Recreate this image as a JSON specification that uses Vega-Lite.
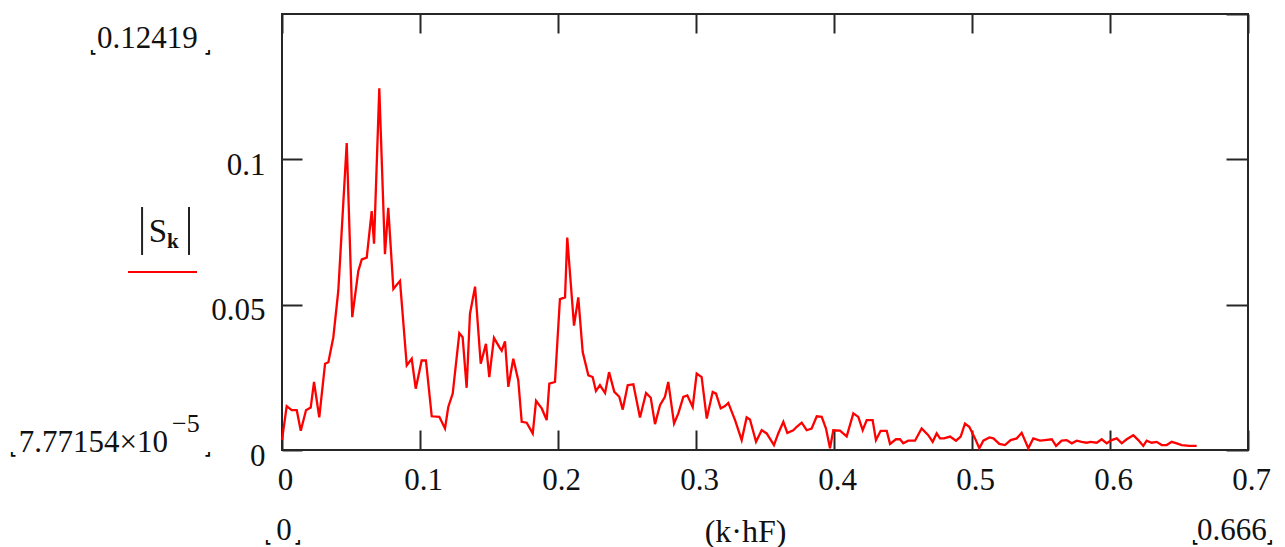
{
  "$schema": "https://vega.github.io/schema/vega-lite/v6.json",
  "width": 966,
  "height": 436,
  "autosize": {"type": "none"},
  "padding": {"left": 282, "top": 14, "right": 37, "bottom": 97},
  "background": "white",
  "config": {
    "view": {"stroke": "#262626", "strokeWidth": 2},
    "text": {"font": "Liberation Serif", "color": "#111", "fontSize": 31}
  },
  "data": {"values": [
    {"f":0,"s":0.0034},{"f":0.0034,"s":0.0151},{"f":0.0070,"s":0.0137},{"f":0.0107,"s":0.0137},{"f":0.0136,"s":0.0066},{"f":0.0174,"s":0.0137},{"f":0.0208,"s":0.0146},{"f":0.0232,"s":0.0234},{"f":0.0270,"s":0.0112},{"f":0.0312,"s":0.0297},{"f":0.0336,"s":0.0302},{"f":0.0372,"s":0.0388},{"f":0.0408,"s":0.0548},{"f":0.0469,"s":0.1056},{"f":0.0509,"s":0.0457},{"f":0.0553,"s":0.0616},{"f":0.0578,"s":0.0656},{"f":0.0614,"s":0.0662},{"f":0.0650,"s":0.0822},{"f":0.0667,"s":0.0710},{"f":0.0705,"s":0.1244},{"f":0.0746,"s":0.0674},{"f":0.0770,"s":0.0833},{"f":0.0807,"s":0.0554},{"f":0.0855,"s":0.0582},{"f":0.0904,"s":0.0291},{"f":0.0940,"s":0.0314},{"f":0.0969,"s":0.0211},{"f":0.1012,"s":0.0308},{"f":0.1043,"s":0.0308},{"f":0.1085,"s":0.0116},{"f":0.1140,"s":0.0114},{"f":0.1181,"s":0.0074},{"f":0.1205,"s":0.0148},{"f":0.1237,"s":0.0194},{"f":0.1285,"s":0.0402},{"f":0.1309,"s":0.0388},{"f":0.1338,"s":0.0214},{"f":0.1362,"s":0.0468},{"f":0.1399,"s":0.0562},{"f":0.1440,"s":0.0297},{"f":0.1478,"s":0.0365},{"f":0.1502,"s":0.0251},{"f":0.1536,"s":0.0386},{"f":0.1575,"s":0.0354},{"f":0.1592,"s":0.0342},{"f":0.1616,"s":0.0374},{"f":0.1640,"s":0.0217},{"f":0.1676,"s":0.0314},{"f":0.1712,"s":0.0240},{"f":0.1737,"s":0.0097},{"f":0.1773,"s":0.0094},{"f":0.1817,"s":0.0057},{"f":0.1841,"s":0.0169},{"f":0.1882,"s":0.0143},{"f":0.1918,"s":0.0103},{"f":0.1937,"s":0.0228},{"f":0.1978,"s":0.0234},{"f":0.2014,"s":0.0519},{"f":0.2051,"s":0.0525},{"f":0.2067,"s":0.0731},{"f":0.2116,"s":0.0428},{"f":0.2147,"s":0.0525},{"f":0.2179,"s":0.0337},{"f":0.2220,"s":0.0257},{"f":0.2251,"s":0.0251},{"f":0.2275,"s":0.0203},{"f":0.2304,"s":0.0223},{"f":0.2341,"s":0.0196},{"f":0.2370,"s":0.0268},{"f":0.2408,"s":0.0200},{"f":0.2444,"s":0.0183},{"f":0.2469,"s":0.0139},{"f":0.2505,"s":0.0223},{"f":0.2546,"s":0.0226},{"f":0.2594,"s":0.0112},{"f":0.2638,"s":0.0196},{"f":0.2672,"s":0.0180},{"f":0.2703,"s":0.0089},{"f":0.2739,"s":0.0154},{"f":0.2775,"s":0.0183},{"f":0.2799,"s":0.0234},{"f":0.2841,"s":0.0091},{"f":0.2872,"s":0.0126},{"f":0.2908,"s":0.0183},{"f":0.2937,"s":0.0188},{"f":0.2976,"s":0.0148},{"f":0.3005,"s":0.0263},{"f":0.3041,"s":0.0251},{"f":0.3078,"s":0.0108},{"f":0.3121,"s":0.0200},{"f":0.3145,"s":0.0194},{"f":0.3179,"s":0.0143},{"f":0.3210,"s":0.0151},{"f":0.3234,"s":0.0162},{"f":0.3283,"s":0.0103},{"f":0.3331,"s":0.0034},{"f":0.3367,"s":0.0112},{"f":0.3391,"s":0.0105},{"f":0.3435,"s":0.0028},{"f":0.3476,"s":0.0068},{"f":0.3512,"s":0.0057},{"f":0.3565,"s":0.0017},{"f":0.3596,"s":0.0057},{"f":0.3633,"s":0.0097},{"f":0.3662,"s":0.0059},{"f":0.3705,"s":0.0068},{"f":0.3730,"s":0.0080},{"f":0.3766,"s":0.0094},{"f":0.3802,"s":0.0068},{"f":0.3838,"s":0.0074},{"f":0.3875,"s":0.0116},{"f":0.3911,"s":0.0114},{"f":0.3942,"s":0.0074},{"f":0.3971,"s":0.0006},{"f":0.3995,"s":0.0068},{"f":0.4043,"s":0.0067},{"f":0.4092,"s":0.0047},{"f":0.4140,"s":0.0126},{"f":0.4176,"s":0.0114},{"f":0.4208,"s":0.0068},{"f":0.4237,"s":0.0103},{"f":0.4280,"s":0.0103},{"f":0.4304,"s":0.0034},{"f":0.4338,"s":0.0066},{"f":0.4382,"s":0.0066},{"f":0.4406,"s":0.0021},{"f":0.4449,"s":0.0037},{"f":0.4478,"s":0.0037},{"f":0.4502,"s":0.0023},{"f":0.4538,"s":0.0032},{"f":0.4587,"s":0.0032},{"f":0.4635,"s":0.0074},{"f":0.4683,"s":0.0051},{"f":0.4715,"s":0.0028},{"f":0.4744,"s":0.0057},{"f":0.4768,"s":0.0040},{"f":0.4797,"s":0.0040},{"f":0.4841,"s":0.0046},{"f":0.4884,"s":0.0032},{"f":0.4918,"s":0.0046},{"f":0.4949,"s":0.0091},{"f":0.4980,"s":0.0080},{"f":0.5022,"s":0.0040},{"f":0.5053,"s":0.0006},{"f":0.5082,"s":0.0032},{"f":0.5126,"s":0.0043},{"f":0.5155,"s":0.0040},{"f":0.5198,"s":0.0021},{"f":0.5239,"s":0.0017},{"f":0.5280,"s":0.0034},{"f":0.5324,"s":0.0040},{"f":0.5360,"s":0.0059},{"f":0.5408,"s":0.0006},{"f":0.5444,"s":0.0040},{"f":0.5493,"s":0.0032},{"f":0.5529,"s":0.0034},{"f":0.5578,"s":0.0037},{"f":0.5609,"s":0.0014},{"f":0.5650,"s":0.0032},{"f":0.5686,"s":0.0034},{"f":0.5723,"s":0.0023},{"f":0.5759,"s":0.0032},{"f":0.5795,"s":0.0028},{"f":0.5831,"s":0.0025},{"f":0.5860,"s":0.0028},{"f":0.5904,"s":0.0025},{"f":0.5940,"s":0.0037},{"f":0.5976,"s":0.0023},{"f":0.6012,"s":0.0034},{"f":0.6049,"s":0.0040},{"f":0.6085,"s":0.0023},{"f":0.6121,"s":0.0037},{"f":0.6169,"s":0.0051},{"f":0.6205,"s":0.0034},{"f":0.6241,"s":0.0014},{"f":0.6266,"s":0.0032},{"f":0.6302,"s":0.0025},{"f":0.6338,"s":0.0028},{"f":0.6375,"s":0.0017},{"f":0.6411,"s":0.0017},{"f":0.6447,"s":0.0028},{"f":0.6483,"s":0.0023},{"f":0.6520,"s":0.0017},{"f":0.6575,"s":0.0014},{"f":0.6628,"s":0.0014}
  ]},
  "resolve": {"axis": {"x": "independent", "y": "independent"}},
  "layer": [
    {
      "mark": {"type": "line", "color": "#ff0000", "strokeWidth": 2.3},
      "encoding": {
        "x": {"field": "f", "type": "quantitative",
          "scale": {"domain": [0, 0.7], "nice": false, "zero": false},
          "axis": {"orient": "bottom", "values": [0, 0.1, 0.2, 0.3, 0.4, 0.5, 0.6, 0.7], "format": "~g",
            "domain": false, "grid": false, "tickSize": -20, "tickWidth": 2, "tickColor": "#262626",
            "labelPadding": 35, "labelOffset": 3, "labelFont": "Liberation Serif", "labelFontSize": 31, "labelColor": "#111",
            "labelFlush": false, "labelOverlap": false, "labelBound": false,
            "title": "(k·hF)", "titleFont": "Liberation Serif", "titleFontSize": 32, "titleFontWeight": "normal", "titleColor": "#111",
            "titleX": 463, "titleY": 91, "titleBaseline": "alphabetic", "titleAlign": "center", "titleAnchor": null}},
        "y": {"field": "s", "type": "quantitative",
          "scale": {"domain": [0, 0.15], "nice": false, "zero": false},
          "axis": {"orient": "left", "values": [0, 0.05, 0.1], "format": "~g",
            "domain": false, "grid": false, "tickSize": -20, "tickWidth": 2, "tickColor": "#262626",
            "labelPadding": 37, "labelOffset": 6, "labelFont": "Liberation Serif", "labelFontSize": 31, "labelColor": "#111",
            "labelFlush": false, "labelOverlap": false, "labelBound": false, "labelBaseline": "middle", "title": null}}
      }
    },
    {
      "mark": {"type": "line", "strokeOpacity": 0},
      "encoding": {
        "x": {"field": "f", "type": "quantitative",
          "axis": {"orient": "top", "values": [0, 0.1, 0.2, 0.3, 0.4, 0.5, 0.6, 0.7], "labels": false,
            "domain": false, "grid": false, "tickSize": -19, "tickWidth": 2, "tickColor": "#262626", "title": null}},
        "y": {"field": "s", "type": "quantitative",
          "axis": {"orient": "right", "values": [0, 0.05, 0.1, 0.15], "labels": false,
            "domain": false, "grid": false, "tickSize": -22, "tickWidth": 2, "tickColor": "#262626", "title": null}}
      }
    },
    {
      "data": {"values": [{}]},
      "mark": {"type": "text", "text": "0.12419", "align": "left", "baseline": "alphabetic", "fontSize": 31},
      "encoding": {"x": {"datum": -0.1341, "type": "quantitative", "axis": null}, "y": {"datum": 0.1383, "type": "quantitative", "axis": null}}
    },
    {
      "data": {"values": [{}]},
      "mark": {"type": "text", "text": "7.77154×10", "align": "right", "baseline": "alphabetic", "fontSize": 31},
      "encoding": {"x": {"datum": -0.0826, "type": "quantitative", "axis": null}, "y": {"datum": -0.0007, "type": "quantitative", "axis": null}}
    },
    {
      "data": {"values": [{}]},
      "mark": {"type": "text", "text": "−5", "align": "left", "baseline": "alphabetic", "fontSize": 26},
      "encoding": {"x": {"datum": -0.0797, "type": "quantitative", "axis": null}, "y": {"datum": 0.0062, "type": "quantitative", "axis": null}}
    },
    {
      "data": {"values": [{}]},
      "mark": {"type": "text", "text": "0", "align": "center", "baseline": "alphabetic", "fontSize": 31},
      "encoding": {"x": {"datum": 0.0014, "type": "quantitative", "axis": null}, "y": {"datum": -0.031, "type": "quantitative", "axis": null}}
    },
    {
      "data": {"values": [{}]},
      "mark": {"type": "text", "text": "0.666", "align": "center", "baseline": "alphabetic", "fontSize": 31},
      "encoding": {"x": {"datum": 0.6884, "type": "quantitative", "axis": null}, "y": {"datum": -0.031, "type": "quantitative", "axis": null}}
    },
    {
      "data": {"values": [{}]},
      "mark": {"type": "text", "text": "⌞", "font": "DejaVu Sans", "color": "#000", "fontWeight": "bold", "align": "center", "baseline": "alphabetic", "fontSize": 14},
      "encoding": {"x": {"datum": -0.137, "type": "quantitative", "axis": null}, "y": {"datum": 0.1366, "type": "quantitative", "axis": null}}
    },
    {
      "data": {"values": [{}]},
      "mark": {"type": "text", "text": "⌟", "font": "DejaVu Sans", "color": "#000", "fontWeight": "bold", "align": "center", "baseline": "alphabetic", "fontSize": 14},
      "encoding": {"x": {"datum": -0.0536, "type": "quantitative", "axis": null}, "y": {"datum": 0.1366, "type": "quantitative", "axis": null}}
    },
    {
      "data": {"values": [{}]},
      "mark": {"type": "text", "text": "⌞", "font": "DejaVu Sans", "color": "#000", "fontWeight": "bold", "align": "center", "baseline": "alphabetic", "fontSize": 14},
      "encoding": {"x": {"datum": -0.1949, "type": "quantitative", "axis": null}, "y": {"datum": -0.0017, "type": "quantitative", "axis": null}}
    },
    {
      "data": {"values": [{}]},
      "mark": {"type": "text", "text": "⌟", "font": "DejaVu Sans", "color": "#000", "fontWeight": "bold", "align": "center", "baseline": "alphabetic", "fontSize": 14},
      "encoding": {"x": {"datum": -0.0536, "type": "quantitative", "axis": null}, "y": {"datum": -0.0017, "type": "quantitative", "axis": null}}
    },
    {
      "data": {"values": [{}]},
      "mark": {"type": "text", "text": "⌞", "font": "DejaVu Sans", "color": "#000", "fontWeight": "bold", "align": "center", "baseline": "alphabetic", "fontSize": 14},
      "encoding": {"x": {"datum": -0.0101, "type": "quantitative", "axis": null}, "y": {"datum": -0.032, "type": "quantitative", "axis": null}}
    },
    {
      "data": {"values": [{}]},
      "mark": {"type": "text", "text": "⌟", "font": "DejaVu Sans", "color": "#000", "fontWeight": "bold", "align": "center", "baseline": "alphabetic", "fontSize": 14},
      "encoding": {"x": {"datum": 0.0116, "type": "quantitative", "axis": null}, "y": {"datum": -0.032, "type": "quantitative", "axis": null}}
    },
    {
      "data": {"values": [{}]},
      "mark": {"type": "text", "text": "⌞", "font": "DejaVu Sans", "color": "#000", "fontWeight": "bold", "align": "center", "baseline": "alphabetic", "fontSize": 14},
      "encoding": {"x": {"datum": 0.6616, "type": "quantitative", "axis": null}, "y": {"datum": -0.032, "type": "quantitative", "axis": null}}
    },
    {
      "data": {"values": [{}]},
      "mark": {"type": "text", "text": "⌟", "font": "DejaVu Sans", "color": "#000", "fontWeight": "bold", "align": "center", "baseline": "alphabetic", "fontSize": 14},
      "encoding": {"x": {"datum": 0.716, "type": "quantitative", "axis": null}, "y": {"datum": -0.032, "type": "quantitative", "axis": null}}
    },
    {
      "data": {"values": [{}]},
      "mark": {"type": "text", "text": "S", "align": "left", "baseline": "alphabetic", "fontSize": 33},
      "encoding": {"x": {"datum": -0.0965, "type": "quantitative", "axis": null}, "y": {"datum": 0.0716, "type": "quantitative", "axis": null}}
    },
    {
      "data": {"values": [{}]},
      "mark": {"type": "text", "text": "k", "align": "left", "baseline": "alphabetic", "fontSize": 21, "fontWeight": "bold"},
      "encoding": {"x": {"datum": -0.0833, "type": "quantitative", "axis": null}, "y": {"datum": 0.0695, "type": "quantitative", "axis": null}}
    },
    {
      "data": {"values": [{}]},
      "mark": {"type": "rule", "color": "#222", "strokeWidth": 2},
      "encoding": {"x": {"datum": -0.1014, "type": "quantitative", "axis": null}, "y": {"datum": 0.0836, "type": "quantitative", "axis": null}, "y2": {"datum": 0.0671}}
    },
    {
      "data": {"values": [{}]},
      "mark": {"type": "rule", "color": "#222", "strokeWidth": 2},
      "encoding": {"x": {"datum": -0.0674, "type": "quantitative", "axis": null}, "y": {"datum": 0.0836, "type": "quantitative", "axis": null}, "y2": {"datum": 0.0671}}
    },
    {
      "data": {"values": [{}]},
      "mark": {"type": "rule", "color": "#ff0000", "strokeWidth": 2},
      "encoding": {"x": {"datum": -0.1116, "type": "quantitative", "axis": null}, "x2": {"datum": -0.0616}, "y": {"datum": 0.0612, "type": "quantitative", "axis": null}}
    }
  ]
}
